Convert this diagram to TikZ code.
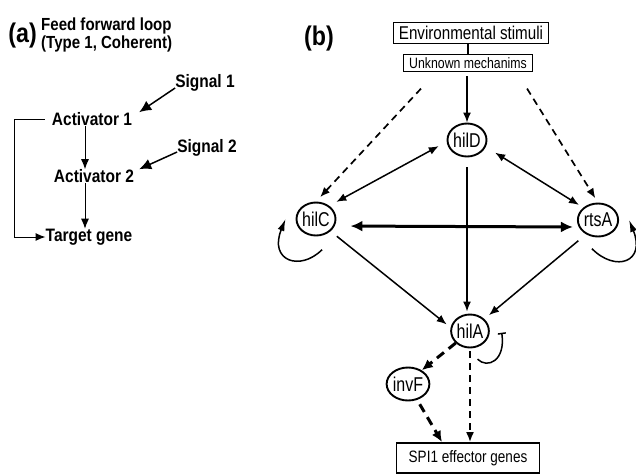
\documentclass[tikz,border=0pt]{standalone}
\usepackage{fontspec}
\setmainfont{Liberation Sans}
\newfontfamily\afont[FakeStretch=0.86]{Liberation Sans Bold}
\newfontfamily\bfont[FakeStretch=0.82]{Liberation Sans}
\newfontfamily\cfont[FakeStretch=0.8]{Liberation Sans}
\usetikzlibrary{arrows.meta}
\usetikzlibrary{positioning,shapes.geometric}

\begin{document}
\begin{tikzpicture}[x=1pt,y=-1pt,
    lbl/.style={inner sep=0pt, font=\afont\fontsize{18}{20}\selectfont},
    gene/.style={draw, ellipse, line width=1.9pt, inner sep=0pt,
      minimum width=39pt, minimum height=33pt, font=\cfont\fontsize{20}{22}\selectfont},
    box/.style={draw, rectangle, line width=1.9pt, inner sep=0pt},
    arr/.style={line width=1.5pt, -{Latex[length=10pt,width=8pt]}},
    darr/.style={line width=1.5pt, {Latex[length=10pt,width=8pt]}-{Latex[length=10pt,width=8pt]}},
    sarr/.style={line width=1.5pt, -{Latex[length=12pt,width=11pt]}},
    loop/.style={line width=1.5pt, -{Latex[length=12pt,width=7pt]}},
    dsh/.style={line width=1.7pt, dash pattern=on 7pt off 5pt, -{Latex[length=10pt,width=8pt]}},
    tdsh/.style={line width=3pt, dash pattern=on 9pt off 6pt, -{Latex[length=11pt,width=10pt]}}]
  \useasboundingbox (0,0) rectangle (636,474);

  % (a) feed forward loop
  \node[lbl, font=\afont\fontsize{27}{30}\selectfont, anchor=base east] (pa) at (37,42) {(a)};
  \node[lbl, font=\afont\fontsize{17.5}{13.5}\selectfont, align=left, anchor=north west]
    (ffl) at (41,18) {Feed forward loop\\(Type 1, Coherent)};
  \node[lbl] (sig1) at (205,83) {Signal 1};
  \node[lbl] (act1) at (92,119) {Activator 1};
  \node[lbl] (sig2) at (207,148) {Signal 2};
  \node[lbl] (act2) at (94,176) {Activator 2};
  \node[lbl] (target) at (89,237) {Target gene};

  \draw[sarr] ([yshift=-5pt]sig1.west) -- ([xshift=7pt]act1.north east);
  \draw[sarr] ([yshift=-4pt]sig2.west) -- ([xshift=5pt]act2.north east);
  \draw[arr, line width=1pt] ([xshift=-7pt]act1.south) -- ([xshift=-9pt]act2.north);
  \draw[arr, line width=1pt] ([xshift=-9pt]act2.south) -- ([xshift=-4pt]target.north);
  \draw[line width=1pt, -{Latex[length=10pt,width=8pt]}, shorten <=7pt]
    (act1.west) -- ++(-37,0) |- (target.west);

  % (b) SPI1 network
  \node[lbl, font=\afont\fontsize{27}{30}\selectfont] (pb) at (319,39) {(b)};
  \node[box, font=\bfont\fontsize{18.5}{20}\selectfont, minimum width=155pt, minimum height=21pt]
    (env) at (471,33) {Environmental stimuli};
  \node[box, font=\bfont\fontsize{15}{17}\selectfont, minimum width=129pt, minimum height=17pt]
    (unk) at (468,63) {Unknown mechanims};
  \node[gene] (hilD) at (467,140) {hilD};
  \node[gene] (hilC) at (316,219) {hilC};
  \node[gene] (rtsA) at (598,220) {rtsA};
  \node[gene, minimum width=37pt] (hilA) at (470,331) {hilA};
  \node[gene, minimum width=41pt] (invF) at (408,384) {invF};
  \node[box, font=\bfont\fontsize{16.5}{18}\selectfont, minimum width=143pt, minimum height=30pt]
    (spi) at (468,458) {SPI1 effector genes};

  \draw[line width=1.9pt] (unk.north |- env.south) -- (unk.north);
  \draw[arr, shorten <=4pt] (hilD.north |- unk.south) -- (hilD.north);
  \draw[dsh, shorten <=22pt, shorten >=6pt] ([xshift=-32pt]unk.south) -- (hilC.north);
  \draw[dsh, shorten <=19pt, shorten >=5pt] ([xshift=49pt]unk.south) -- (rtsA.north);

  \draw[darr, shorten <=9pt, shorten >=8pt] (hilD.185) -- (hilC.45);
  \draw[darr, shorten <=11pt, shorten >=5pt] (hilD.-20) -- (rtsA.140);
  \draw[line width=3pt, {Latex[length=12pt,width=11pt]}-{Latex[length=12pt,width=11pt]},
    shorten <=14pt, shorten >=4pt] ([yshift=-7pt]hilC.east) -- ([yshift=-7pt]rtsA.west);
  \draw[arr, shorten <=10pt, shorten >=2pt] (hilD.south) -- (hilD.south |- hilA.north);
  \draw[arr, shorten <=8pt, shorten >=5pt] (hilC.-40) -- (hilA.170);
  \draw[arr, shorten <=10pt, shorten >=6pt] (rtsA.-130) -- (hilA.40);

  % autoregulation
  \draw[loop] ([yshift=-14pt]hilC.-70) .. controls +(-22,22) and +(-17,42) .. ([xshift=-10pt]hilC.180);
  \draw[loop] ([yshift=-12pt]rtsA.-110) .. controls +(24,24) and +(17,42) .. ([xshift=10pt]rtsA.0);
  \draw[line width=1.5pt, -{Bar[width=8pt]}]
    ([yshift=-12pt]hilA.-65) .. controls +(10,10) and +(4,28) .. ([xshift=12pt]hilA.-5);

  \draw[tdsh] (hilA.-140) -- (invF.45);
  \draw[tdsh, shorten <=5pt] (invF.-60) -- ([xshift=-26pt]spi.north);
  \draw[dsh, shorten <=3pt] (hilA.south) -- (hilA.south |- spi.north);
\end{tikzpicture}
\end{document}
